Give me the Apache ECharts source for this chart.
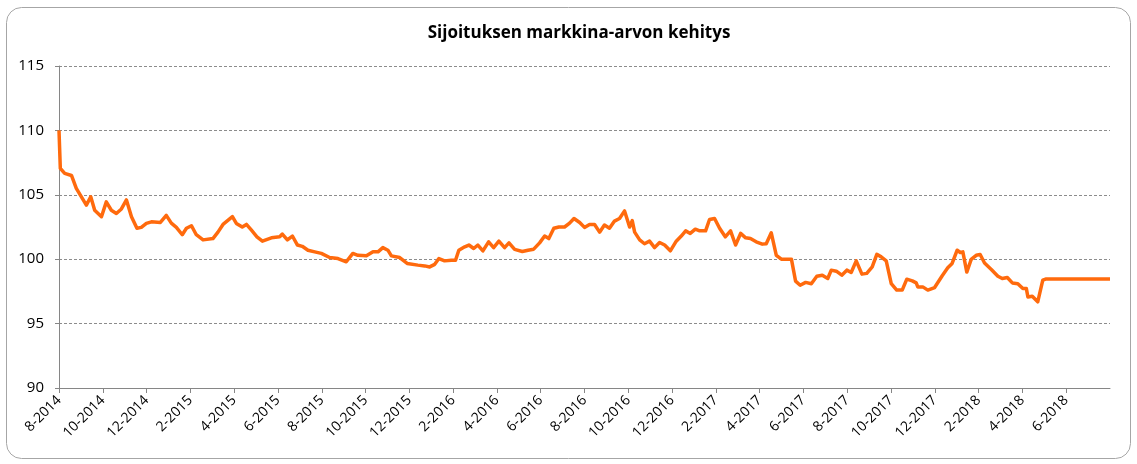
<!DOCTYPE html>
<html lang="fi">
<head>
    <meta charset="UTF-8">
    <title>Sijoituksen markkina-arvon kehitys</title>
    <style>
        html, body { margin: 0; padding: 0; background: #fff; }
        #chart { width: 1137px; height: 464px; }
    </style>
</head>
<body>
<div id="chart"></div>
<script src="https://cdn.jsdelivr.net/npm/echarts@6/dist/echarts.min.js"></script>
<script>
// kuukausia alusta (8-2014 = 0)
var monthPos = [0, 0.06, 0.26, 0.57, 0.79, 1.25, 1.45, 1.63, 1.94, 2.16, 2.39, 2.62, 2.85, 3.08, 3.31, 3.56, 3.76, 3.99,
    4.22, 4.63, 4.90, 5.13, 5.36, 5.63, 5.82, 6.05, 6.27, 6.58, 7.03, 7.26, 7.49, 7.92, 8.10, 8.37, 8.56, 8.79,
    9.04, 9.29, 9.70, 10.08, 10.20, 10.43, 10.66, 10.89, 11.11, 11.37, 11.68, 11.98, 12.36, 12.74, 13.12, 13.42,
    13.65, 14.04, 14.34, 14.57, 14.79, 15.02, 15.18, 15.56, 15.90, 16.39, 16.70, 16.93, 17.16, 17.35, 17.61, 17.92,
    18.11, 18.26, 18.53, 18.72, 18.94, 19.13, 19.36, 19.62, 19.85, 20.09, 20.35, 20.55, 20.81, 21.16, 21.42, 21.68,
    21.95, 22.18, 22.37, 22.60, 22.83, 23.09, 23.32, 23.52, 23.78, 24.00, 24.23, 24.46, 24.69, 24.91, 25.14, 25.37,
    25.60, 25.83, 26.06, 26.18, 26.29, 26.52, 26.74, 26.97, 27.20, 27.43, 27.66, 27.92, 28.19, 28.42, 28.62, 28.83,
    29.06, 29.26, 29.53, 29.71, 29.94, 30.17, 30.43, 30.67, 30.90, 31.13, 31.36, 31.58, 31.84, 32.12, 32.30, 32.53,
    32.76, 32.99, 33.45, 33.64, 33.85, 34.10, 34.36, 34.61, 34.86, 35.11, 35.27, 35.50, 35.75, 35.98, 36.18, 36.41,
    36.67, 36.89, 37.14, 37.35, 37.55, 37.78, 38.01, 38.26, 38.51, 38.72, 38.97, 39.15, 39.22, 39.45, 39.68, 39.99,
    40.33, 40.59, 40.79, 41.02, 41.16, 41.28, 41.46, 41.66, 41.89, 42.07, 42.27, 42.58, 42.88, 43.08, 43.31, 43.54,
    43.79, 44.02, 44.18, 44.25, 44.45, 44.70, 44.93, 45.09, 48];
var values = [110.0, 107.05, 106.66, 106.5, 105.5, 104.2, 104.85, 103.8, 103.3, 104.45, 103.8, 103.55, 103.9, 104.6, 103.3, 102.4, 102.47, 102.78,
    102.9, 102.85, 103.4, 102.8, 102.47, 101.9, 102.4, 102.6, 101.9, 101.5, 101.6, 102.1, 102.7, 103.3, 102.78, 102.5, 102.7, 102.25,
    101.74, 101.4, 101.66, 101.74, 101.95, 101.5, 101.8, 101.1, 101.0, 100.7, 100.57, 100.45, 100.13, 100.05, 99.8, 100.45,
    100.3, 100.26, 100.57, 100.57, 100.9, 100.7, 100.26, 100.13, 99.67, 99.54, 99.48, 99.4, 99.6, 100.05, 99.87, 99.92,
    99.92, 100.7, 100.96, 101.1, 100.83, 101.1, 100.65, 101.35, 100.9, 101.4, 100.9, 101.27, 100.76, 100.6, 100.7, 100.78,
    101.27, 101.8, 101.6, 102.4, 102.5, 102.5, 102.8, 103.16, 102.85, 102.47, 102.7, 102.7, 102.1, 102.65, 102.4, 102.96,
    103.16, 103.75, 102.5, 103.0, 102.1, 101.5, 101.2, 101.4, 100.9, 101.3, 101.1, 100.65, 101.4, 101.8, 102.2, 102.0,
    102.33, 102.2, 102.2, 103.08, 103.16, 102.4, 101.74, 102.2, 101.1, 102.0, 101.66, 101.6, 101.35, 101.17, 101.2, 102.05,
    100.3, 100.0, 100.0, 98.3, 97.98, 98.2, 98.1, 98.68, 98.76, 98.5, 99.15, 99.07, 98.76, 99.15, 98.97, 99.87,
    98.84, 98.9, 99.4, 100.38, 100.18, 99.87, 98.1, 97.6, 97.6, 98.45, 98.32, 98.16, 97.85, 97.85, 97.6, 97.8,
    98.7, 99.33, 99.67, 100.7, 100.52, 100.57, 99.0, 99.98, 100.3, 100.36, 99.7, 99.2, 98.68, 98.5, 98.58, 98.16,
    98.1, 97.72, 97.72, 97.07, 97.13, 96.69, 98.37, 98.47, 98.47];
var startMonth = 8;
var startYear = 2014;
var yTicks = [90, 95, 100, 105, 110, 115];

function monthLabel(v) {
    var k = startMonth - 1 + Math.round(v);
    return (k % 12 + 1) + '-' + (startYear + Math.floor(k / 12));
}

var seriesData = [];
for (var i = 0; i < monthPos.length; i++) {
    seriesData.push([monthPos[i], values[i]]);
}

var myChart = echarts.init(document.getElementById('chart'));
var option = {
    animation: false,
    textStyle: { fontFamily: 'Open Sans' },
    title: {
        text: 'Sijoituksen markkina-arvon kehitys',
        left: 574,
        textAlign: 'center',
        top: 20,
        textStyle: { fontFamily: 'Open Sans', fontSize: 17, fontWeight: 'bold', color: '#000' }
    },
    graphic: [{
        type: 'rect',
        shape: { x: 6.5, y: 7.5, width: 1124, height: 451, r: 15 },
        style: { fill: 'none', stroke: '#a6a6a6', lineWidth: 1 },
        silent: true
    }],
    grid: { left: 59, right: 27, top: 66, bottom: 76 },
    xAxis: {
        type: 'value',
        min: 0,
        max: 48,
        interval: 2,
        splitLine: { show: false },
        axisLine: { lineStyle: { color: '#868686' } },
        axisTick: { show: true, length: 5, lineStyle: { color: '#868686' } },
        axisLabel: {
            rotate: 45,
            margin: 10,
            fontSize: 14,
            color: '#000',
            showMaxLabel: false,
            formatter: function (v) { return v >= 48 ? '' : monthLabel(v); }
        }
    },
    yAxis: {
        type: 'value',
        min: yTicks[0],
        max: yTicks[yTicks.length - 1],
        interval: 5,
        axisLine: { show: true, lineStyle: { color: '#868686' } },
        axisTick: { show: true, length: 4, lineStyle: { color: '#868686' } },
        axisLabel: { fontSize: 15, color: '#000', margin: 15 },
        splitLine: { lineStyle: { color: '#8c8c8c', type: [3, 2], width: 1 } }
    },
    series: [{
        type: 'line',
        data: seriesData,
        symbol: 'none',
        lineStyle: { color: '#FF6A0D', width: 3.5, join: 'round' },
        itemStyle: { color: '#FF6A0D' }
    }]
};
myChart.setOption(option);
</script>
</body>
</html>
